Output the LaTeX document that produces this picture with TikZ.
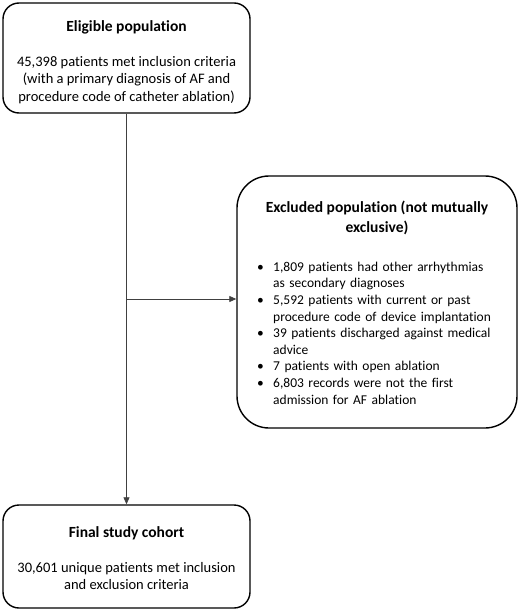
\documentclass[tikz,border=0pt]{standalone}
\usepackage{fontspec}
\setmainfont{Carlito}[Ligatures={NoCommon}]
\usetikzlibrary{arrows.meta}
\begin{document}
\begin{tikzpicture}[x=1pt,y=-1pt,
  box/.style={draw=black,line width=1.4pt,rounded corners=16pt,inner sep=0pt},
  bigbox/.style={draw=black,line width=1.4pt,rounded corners=32pt,inner sep=0pt},
  titletext/.style={inner sep=0pt,font=\fontsize{15.5}{20}\selectfont\bfseries,align=center},
  bodytext/.style={inner sep=0pt,font=\fontsize{14.5}{17.8}\selectfont,align=center},
  conn/.style={draw=black!75,line width=0.8pt},
  arr/.style={conn,-{Triangle[length=7pt,width=6pt]}}]
\useasboundingbox (0,0) rectangle (520,612);
% boxes
\node[box,minimum width=247pt,minimum height=110pt] (elig) at (126.5,58) {};
\node[bigbox,minimum width=280pt,minimum height=252pt] (excl) at (377,302) {};
\node[box,minimum width=247pt,minimum height=103pt] (final) at (126.5,556.5) {};
% texts
\node[titletext] (eligT) at (126.5,27) {Eligible population};
\node[bodytext] (eligB) at (126.5,80) {45,398 patients met inclusion criteria\\(with a primary diagnosis of AF and\\procedure code of catheter ablation)};
\node[titletext] (exclT) at (377,218) {Excluded population (not mutually\\exclusive)};
\node[inner sep=0pt,anchor=north west,text width=238pt,font=\fontsize{13.5}{16.6}\selectfont] (exclB) at (257,259.5) {%
\setlength{\parskip}{0pt}%
\hangindent=16pt\hangafter=1\noindent\makebox[16pt][l]{\textbullet}\strut 1,809 patients had other arrhythmias\linebreak as secondary diagnoses\par
\hangindent=16pt\hangafter=1\noindent\makebox[16pt][l]{\textbullet}\strut 5,592 patients with current or past\linebreak procedure code of device implantation\par
\hangindent=16pt\hangafter=1\noindent\makebox[16pt][l]{\textbullet}\strut 39 patients discharged against medical\linebreak advice\par
\hangindent=16pt\hangafter=1\noindent\makebox[16pt][l]{\textbullet}\strut 7 patients with open ablation\par
\hangindent=16pt\hangafter=1\noindent\makebox[16pt][l]{\textbullet}\strut 6,803 records were not the first\linebreak admission for AF ablation\par};
\node[titletext] (finalT) at (126.5,533) {Final study cohort};
\node[bodytext] (finalB) at (126.5,576) {30,601 unique patients met inclusion\\and exclusion criteria};
% connectors
\coordinate (branch) at (126.5,299);
\draw[arr] (elig.south) -- (final.north);
\draw[arr] (branch) -- (branch -| excl.west);
\end{tikzpicture}
\end{document}
